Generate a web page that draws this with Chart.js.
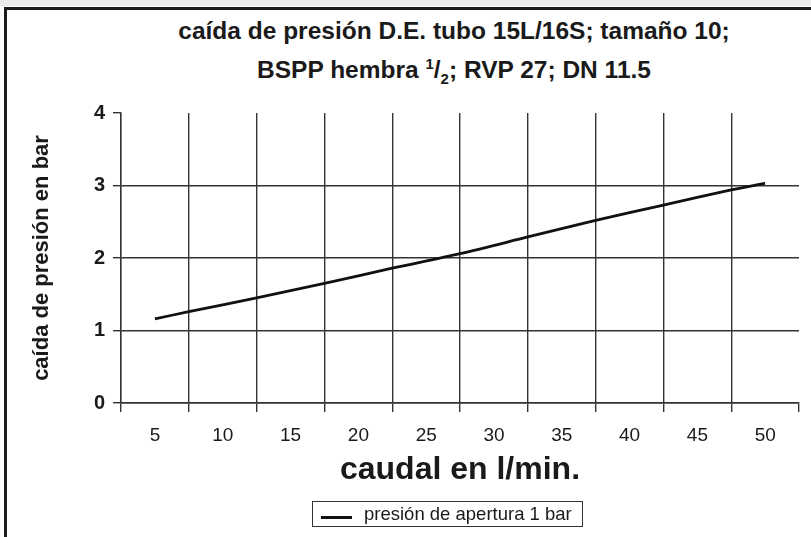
<!DOCTYPE html>
<html lang="es">
<head>
<meta charset="utf-8">
<title>caída de presión D.E. tubo 15L/16S</title>
<script src="https://cdn.jsdelivr.net/npm/chart.js@4/dist/chart.umd.min.js"></script>
<style>
    html, body {
        margin: 0;
        padding: 0;
        background: #fff;
    }
    body {
        width: 811px;
        height: 537px;
        position: relative;
        overflow: hidden;
        font-family: "Liberation Sans", Arial, Helvetica, sans-serif;
        color: #1a1a1a;
    }
    .top-strip {
        position: absolute;
        left: 0; top: 0;
        width: 811px; height: 6px;
        background: #ececec;
    }
    .frame {
        position: absolute;
        left: 4px; top: 7px;
        width: 820px; height: 540px;
        border-top: 3px solid #1c1c1c;
        border-left: 3px solid #1c1c1c;
    }
    .chart-title {
        position: absolute;
        left: 54px;
        width: 800px;
        text-align: center;
        font-weight: bold;
        font-size: 24.5px;
        line-height: 28px;
        white-space: nowrap;
    }
    .chart-title sup, .chart-title sub {
        font-size: 15px;
        line-height: 0;
    }
    #chartWrap {
        position: absolute;
        left: 0; top: 0;
        width: 811px; height: 537px;
    }
    .legend-box {
        position: absolute;
        left: 312px; top: 501px;
        width: 269px; height: 24px;
        border: 1px solid #333;
        display: flex;
        align-items: center;
        font-size: 18.5px;
        white-space: nowrap;
    }
    .legend-line {
        display: inline-block;
        width: 31px;
        height: 3px;
        margin: 7px 12px 0 8px;
        background: #111;
    }
</style>
</head>
<body>
<div class="top-strip"></div>
<div class="frame"></div>

<div class="chart-title" style="top:17px">caída de presión D.E. tubo 15L/16S; tamaño 10;</div>
<div class="chart-title" style="top:56px">BSPP hembra <sup>1</sup>/<sub>2</sub>; RVP 27; DN 11.5</div>

<div id="chartWrap"><canvas id="pressureChart" width="811" height="537"></canvas></div>
<div class="legend-box" id="legendBox"></div>

<script>
// flow (l/min) and pressure drop (bar)
const flowValues = [5, 7.5, 12.5, 17.5, 22.5, 27.5, 32.5, 37.5, 42.5, 47.5, 50];
const dropValues = [1.16, 1.26, 1.45, 1.65, 1.86, 2.06, 2.29, 2.52, 2.73, 2.94, 3.03];

// x labels sit in the middle of each grid cell
const xTickLabels = [5, 10, 15, 20, 25, 30, 35, 40, 45, 50];
const yTickLabels = [0, 1, 2, 3, 4];

const seriesLabel = 'presión de apertura 1 bar';
const gridColor = '#333';
const halfStep = 2.5;

const points = flowValues.map((x, i) => ({ x: x, y: dropValues[i] }));

// grid lines fall between the labels, plus one closing tick at the right end
const xGridValues = xTickLabels.map(v => v - halfStep).concat([xTickLabels[xTickLabels.length - 1] + halfStep]);
const xEnd = xGridValues[xGridValues.length - 1];

const ctx = document.getElementById('pressureChart');

const chart = new Chart(ctx, {
    type: 'line',
    data: {
        datasets: [{
            label: seriesLabel,
            data: points,
            borderColor: '#111',
            borderWidth: 2.8,
            pointRadius: 0,
            tension: 0.3,
            fill: false
        }]
    },
    options: {
        responsive: false,
        animation: false,
        layout: {
            padding: { top: 113, right: 2, left: 0, bottom: 0 }
        },
        plugins: {
            legend: { display: false },
            tooltip: { enabled: false }
        },
        scales: {
            x: {
                type: 'linear',
                min: xGridValues[0],
                max: xEnd,
                afterBuildTicks: function(scale) {
                    scale.ticks = xGridValues.map(v => ({ value: v }));
                },
                afterFit: function(scale) {
                    scale.height = 134;
                },
                ticks: {
                    autoSkip: false,
                    maxRotation: 0,
                    padding: 12,
                    labelOffset: 34,
                    color: '#1a1a1a',
                    font: { family: 'Liberation Sans', size: 19 },
                    callback: function(value, index) {
                        return index < xTickLabels.length ? String(xTickLabels[index]) : '';
                    }
                },
                grid: {
                    color: function(c) {
                        return c.tick && c.tick.value === xEnd ? 'rgba(0,0,0,0)' : gridColor;
                    },
                    tickColor: gridColor,
                    lineWidth: 1.4,
                    tickLength: 9
                },
                border: { display: true, color: gridColor, width: 1.4 },
                title: {
                    display: true,
                    text: 'caudal en l/min.',
                    color: '#1a1a1a',
                    font: { family: 'Liberation Sans', size: 32, weight: 'bold' },
                    padding: { top: 0, bottom: 48 }
                }
            },
            y: {
                min: yTickLabels[0],
                max: yTickLabels[yTickLabels.length - 1],
                afterFit: function(scale) {
                    scale.width = 121;
                },
                ticks: {
                    stepSize: 1,
                    padding: 8,
                    color: '#1a1a1a',
                    font: { family: 'Liberation Sans', size: 20, weight: 'bold' }
                },
                grid: {
                    color: function(c) {
                        return c.tick && c.tick.value === yTickLabels[yTickLabels.length - 1] ? 'rgba(0,0,0,0)' : gridColor;
                    },
                    tickColor: gridColor,
                    lineWidth: 1.4,
                    tickLength: 8
                },
                border: { display: true, color: gridColor, width: 1.4 },
                title: {
                    display: true,
                    text: 'caída de presión en bar',
                    color: '#1a1a1a',
                    font: { family: 'Liberation Sans', size: 22, weight: 'bold' },
                    padding: { top: 29, bottom: 0 }
                }
            }
        }
    }
});

// Legend box built from the dataset
function buildLegend() {
    const box = document.getElementById('legendBox');
    box.innerHTML = '';
    chart.data.datasets.forEach(ds => {
        const line = document.createElement('span');
        line.className = 'legend-line';
        line.style.background = ds.borderColor;
        const text = document.createElement('span');
        text.textContent = ds.label;
        box.appendChild(line);
        box.appendChild(text);
    });
}
buildLegend();
</script>
</body>
</html>
